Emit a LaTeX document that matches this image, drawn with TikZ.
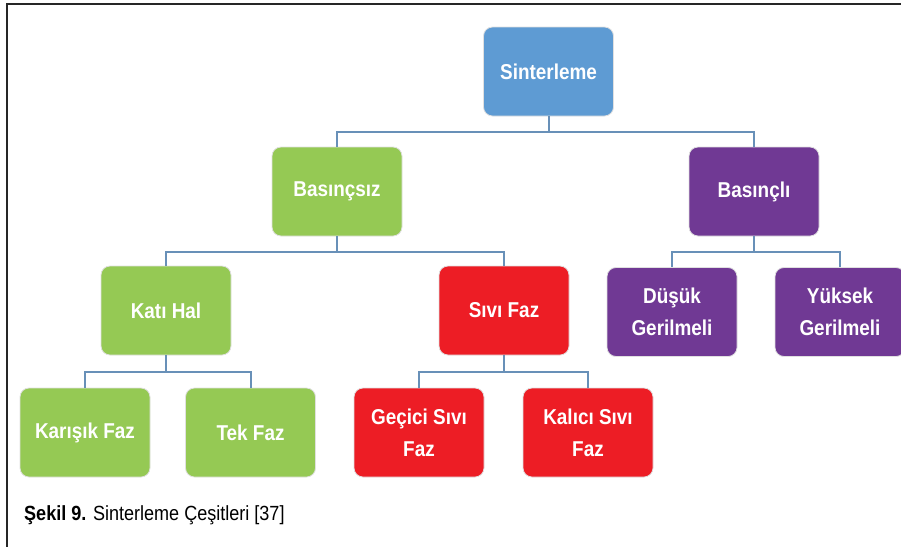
\documentclass[tikz,border=0pt]{standalone}
\usepackage{fontspec}
\setmainfont{Liberation Sans}[FakeStretch=0.88]
\definecolor{cblue}{RGB}{94,155,211}
\definecolor{cgreen}{RGB}{149,201,84}
\definecolor{cred}{RGB}{237,29,37}
\definecolor{cpurple}{RGB}{112,57,148}
\definecolor{cline}{RGB}{104,144,184}
\begin{document}
\begin{tikzpicture}[x=1pt,y=-1pt]
\useasboundingbox (0,0) rectangle (901,547);
\tikzset{
  box/.style={rounded corners=9pt, minimum width=130pt, minimum height=89pt,
    text=white, font=\fontsize{21.5}{32}\selectfont\bfseries, align=center,
    draw=black!12, line width=0.8pt, inner sep=0pt},
  conn/.style={draw=cline, line width=2pt},
  frame/.style={draw=black!85, line width=1.5pt}
}
\draw[frame] (901,4) -- (7,4) -- (7,547);
\node[box,fill=cblue] (s) at (548.5,71.5) {Sinterleme};
\node[box,fill=cgreen] (bz) at (337,191.5) {Basınçsız};
\node[box,fill=cpurple] (bl) at (754,191.5) {Basınçlı};
\node[box,fill=cgreen] (kh) at (166,310.5) {Katı Hal};
\node[box,fill=cred] (sf) at (504,310.5) {Sıvı Faz};
\node[box,fill=cpurple] (dg) at (672,312) {Düşük\\Gerilmeli};
\node[box,fill=cpurple] (yg) at (840,312) {Yüksek\\Gerilmeli};
\node[box,fill=cgreen] (kf) at (85,432.5) {Karışık Faz};
\node[box,fill=cgreen] (tf) at (250.5,432.5) {Tek Faz};
\node[box,fill=cred] (gs) at (419,432.5) {Geçici Sıvı\\Faz};
\node[box,fill=cred] (ks) at (588,432.5) {Kalıcı Sıvı\\Faz};
\draw[conn] (s.south) -- ++(0,16) -| (bz.north);
\draw[conn] (s.south) -- ++(0,16) -| (bl.north);
\draw[conn] (bz.south) -- ++(0,16) -| (kh.north);
\draw[conn] (bz.south) -- ++(0,16) -| (sf.north);
\draw[conn] (bl.south) -- ++(0,16) -| (dg.north);
\draw[conn] (bl.south) -- ++(0,16) -| (yg.north);
\draw[conn] (kh.south) -- ++(0,17) -| (kf.north);
\draw[conn] (kh.south) -- ++(0,17) -| (tf.north);
\draw[conn] (sf.south) -- ++(0,17) -| (gs.north);
\draw[conn] (sf.south) -- ++(0,17) -| (ks.north);
\node[anchor=base west, font=\fontsize{20.5}{24}\selectfont, inner sep=0pt] (cap) at (24,520) {\textbf{Şekil 9.} Sinterleme Çeşitleri [37]};
\end{tikzpicture}
\end{document}
